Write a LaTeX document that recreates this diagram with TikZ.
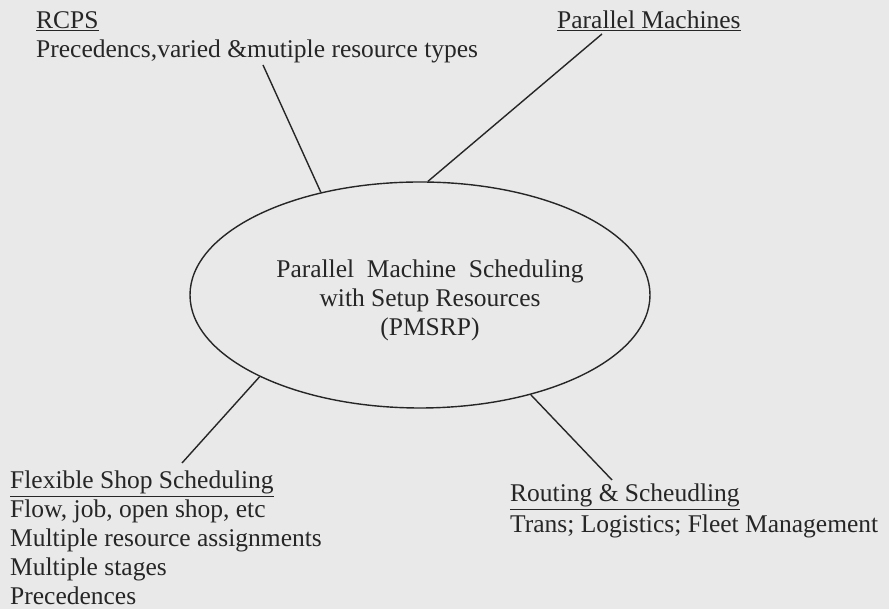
\documentclass[tikz,border=0pt]{standalone}
\usepackage{fontspec}
\setmainfont{Liberation Serif}
\usetikzlibrary{shapes.geometric}
\definecolor{bg}{RGB}{233,233,233}
\definecolor{ink}{RGB}{38,38,38}
\begin{document}
\begin{tikzpicture}[x=1pt,y=1pt,
  txt/.style={anchor=base west,inner sep=0pt,text=ink,
    font=\fontsize{25.5}{29}\selectfont},
  link/.style={draw=ink,line width=1.4pt}]
\fill[bg] (0,0) rectangle (889,609);
\useasboundingbox (0,0) rectangle (889,609);
\node[ellipse,draw=ink,line width=1.4pt,minimum width=460pt,minimum height=226pt,inner sep=0pt] (ell) at (420,314) {};
\node[inner sep=0pt,align=center,text=ink,font=\fontsize{25.5}{29}\selectfont] (title) at (430,309)
  {Parallel\ \ Machine\ \ Scheduling\\with Setup Resources\\(PMSRP)};
\node[txt] (rcps) at (36,580) {\underline{RCPS}};
\node[txt] (rcpsd) at (36,551) {Precedencs,varied \&mutiple resource types};
\node[txt] (pm) at (557,580) {\underline{Parallel Machines}};
\node[txt] (fs) at (10,120) {\underline{Flexible Shop Scheduling}};
\node[txt] (fs1) at (10,91) {Flow, job, open shop, etc};
\node[txt] (fs2) at (10,62) {Multiple resource assignments};
\node[txt] (fs3) at (10,33) {Multiple stages};
\node[txt] (fs4) at (10,4) {Precedences};
\node[txt] (rs) at (510,107) {\underline{Routing \& Scheudling}};
\node[txt] (rsd) at (510,76) {Trans; Logistics; Fleet Management};
\coordinate (rcpsend) at (263,544);
\coordinate (pmend) at (602,575);
\coordinate (fsend) at (182,146);
\coordinate (rsend) at (612,129);
\draw[link] (rcpsend) -- (ell.134.4);
\draw[link] (pmend) -- (ell.86.5);
\draw[link] (fsend) -- (ell.207);
\draw[link] (rsend) -- (ell.318);
\end{tikzpicture}
\end{document}
